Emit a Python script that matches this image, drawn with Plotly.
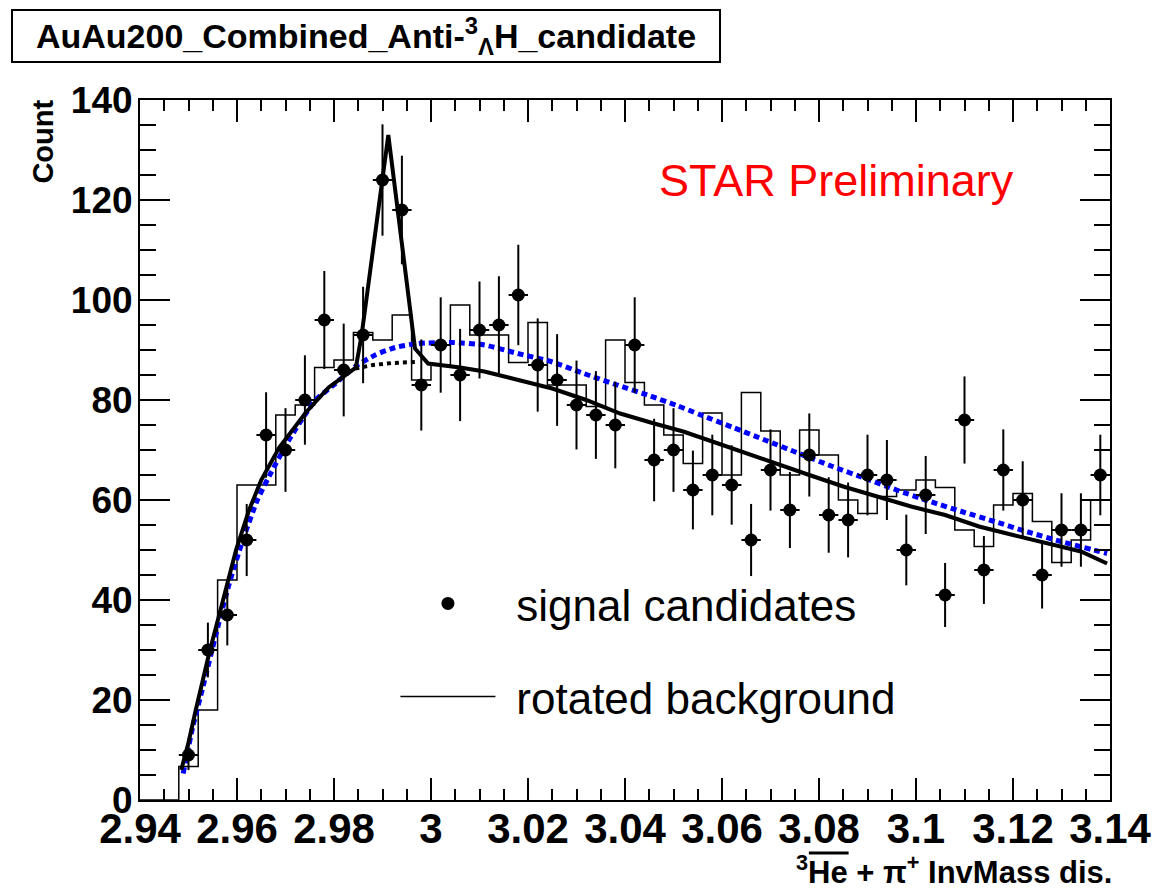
import numpy as np
import plotly.graph_objects as go

# ---------------- data ----------------
bin_low = 2.94
bin_width = 0.004
n_bins = 50

# signal candidates: bin centres 2.950 ... 3.138
signal_first_center = 2.950
signal_counts = [9, 30, 37, 52, 73, 70, 80, 96, 86, 93,
                 124, 118, 83, 91, 85, 94, 95, 101, 87, 84,
                 79, 77, 75, 91, 68, 70, 62, 65, 63, 52,
                 66, 58, 69, 57, 56, 65, 64, 50, 61, 41,
                 76, 46, 66, 60, 45, 54, 54, 65]

# rotated background histogram (all 50 bins from 2.94 to 3.14)
rotated_bg = [0, 0, 6.7, 18, 44, 63, 63, 77, 79, 86.5,
              88, 93.5, 92, 97, 84, 87, 99, 93, 93, 87.5,
              95.5, 83, 83, 78.7, 92, 83.5, 79, 73, 67.3, 77.4,
              65, 81.5, 73.8, 65, 74, 69, 60, 57.3, 60.7, 62,
              64, 62.5, 54, 50.7, 59, 61.3, 55.7, 47.5, 52, 60]

# fit to the rotated background (blue dotted)
blue_fit_x = [2.9489, 2.9509, 2.9530, 2.9557, 2.9584, 2.9612, 2.9642, 2.9666, 2.9707,
              2.9742, 2.9762, 2.9803, 2.9844, 2.9885, 2.9926, 2.9974, 3.0042, 3.0110,
              3.0179, 3.0247, 3.0315, 3.0384, 3.0452, 3.0507, 3.0554, 3.0623, 3.0691,
              3.0759, 3.0828, 3.0896, 3.0960, 3.1026, 3.1094, 3.1162, 3.1231, 3.1299, 3.1394]
blue_fit_y = [5.3, 14.7, 22.7, 33.3, 43.3, 52, 60, 64.7, 72,
              77.3, 80, 83.3, 86.7, 89, 90.5, 91.3, 91.5, 91,
              89.3, 87.7, 85.3, 83, 80.8, 78.9, 77.1, 74.5, 71.9,
              69.3, 66.7, 64.3, 62, 59.8, 57.7, 55.7, 53.6, 51.7, 49.3]

# signal + background fit (black solid)
total_fit_x = [2.9485, 2.9500, 2.9515, 2.9543, 2.9570, 2.9598, 2.9625, 2.9650, 2.9687,
               2.9714, 2.9742, 2.9789, 2.9830, 2.9845, 2.9857, 2.9912, 2.9967, 2.9994,
               3.0060, 3.0110, 3.0180, 3.0250, 3.0320, 3.0390, 3.0460, 3.0520, 3.0580,
               3.0650, 3.0720, 3.0780, 3.0850, 3.0920, 3.0990, 3.1060, 3.1130, 3.1200,
               3.1270, 3.1340, 3.1394]
total_fit_y = [6, 11.5, 18, 29.5, 39.5, 50, 58, 64, 70.5,
               74, 77.5, 82.5, 85.3, 86.5, 93, 133, 90.3, 87.3,
               86.5, 85.7, 84, 82.3, 80, 77.3, 75.3, 73.7, 71.7,
               69.3, 67, 65, 62.7, 60.7, 58.7, 57, 54.7, 53,
               51.3, 49.7, 47.3]

# background component under the peak (black dotted)
bg_part_x = [2.9844, 2.9880, 2.9920, 2.9967]
bg_part_y = [86.3, 87.0, 87.4, 87.6]

x_tick_vals = [2.94, 2.96, 2.98, 3.00, 3.02, 3.04, 3.06, 3.08, 3.10, 3.12, 3.14]
x_tick_text = ["2.94", "2.96", "2.98", "3", "3.02", "3.04", "3.06", "3.08", "3.1", "3.12", "3.14"]
y_tick_vals = [0, 20, 40, 60, 80, 100, 120, 140]

# ---------------- derived ----------------
sig = np.array(signal_counts, dtype=float)
sig_x = signal_first_center + bin_width * np.arange(len(sig))
edges = bin_low + bin_width * np.arange(n_bins + 1)
hist_y = list(rotated_bg) + [rotated_bg[-1]]

FONT = "Liberation Sans, Arial, Helvetica, sans-serif"

fig = go.Figure()

fig.add_trace(go.Scatter(
    x=edges, y=hist_y, mode="lines",
    line=dict(shape="hv", color="black", width=1.5),
    name="\u00a0\u200arotated background", legendgroup="b", legendrank=2,
    hoverinfo="skip"))

fig.add_trace(go.Scatter(
    x=blue_fit_x, y=blue_fit_y, mode="lines",
    line=dict(color="#0000ff", width=5, dash="6px,4px", shape="spline", smoothing=0.6),
    showlegend=False))

fig.add_trace(go.Scatter(
    x=bg_part_x, y=bg_part_y, mode="lines",
    line=dict(color="black", width=4, dash="4px,4px"),
    showlegend=False))

fig.add_trace(go.Scatter(
    x=total_fit_x, y=total_fit_y, mode="lines",
    line=dict(color="black", width=4),
    showlegend=False))

fig.add_trace(go.Scatter(
    x=sig_x, y=sig, mode="markers",
    marker=dict(symbol="circle", size=13, color="black"),
    error_y=dict(type="data", array=np.sqrt(sig), width=0, thickness=2, color="black"),
    error_x=dict(type="constant", value=bin_width / 2, width=0, thickness=2, color="black"),
    name="\u00a0\u200asignal candidates", legendgroup="a", legendrank=1))

fig.update_layout(
    width=1164, height=894,
    margin=dict(l=140, r=48, t=100, b=94),
    plot_bgcolor="white", paper_bgcolor="white",
    font=dict(family=FONT, color="black"),
    showlegend=True,
    legend=dict(
        x=(397 - 140) / 976, y=0.331, xanchor="left", yanchor="top",
        font=dict(size=44, family=FONT, color="black"),
        itemwidth=95, bgcolor="rgba(0,0,0,0)", borderwidth=0,
        tracegroupgap=33, traceorder="grouped"),
    xaxis=dict(
        range=[2.94, 3.14], tickvals=x_tick_vals, ticktext=x_tick_text,
        ticks="inside", ticklen=22, tickwidth=1.5, tickcolor="black",
        showline=True, linewidth=2, linecolor="black", mirror="ticks",
        showgrid=False, zeroline=False,
        tickfont=dict(size=42, family=FONT, weight="bold"),
        ticklabelstandoff=-9,
        minor=dict(dtick=0.005, ticks="inside", ticklen=11, tickwidth=1.5, tickcolor="black", showgrid=False)),
    yaxis=dict(
        range=[0, 140], tickvals=y_tick_vals,
        ticks="inside", ticklen=30, tickwidth=1.5, tickcolor="black",
        showline=True, linewidth=2, linecolor="black", mirror="ticks",
        showgrid=False, zeroline=False,
        tickfont=dict(size=37, family=FONT, weight="bold"),
        ticklabelstandoff=-2,
        minor=dict(dtick=5, ticks="inside", ticklen=16, tickwidth=1.5, tickcolor="black", showgrid=False)),
)

# title box
fig.add_annotation(
    xref="paper", yref="paper", x=(10 - 140) / 976, y=(800 - 9) / 700,
    xanchor="left", yanchor="top", showarrow=False,
    text="<b>AuAu200_Combined_Anti-<sup>3</sup><sub>Λ</sub>H_candidate</b>",
    font=dict(size=34, family=FONT, color="black"),
    width=706, height=50, align="center", valign="middle",
    bordercolor="black", borderwidth=2, borderpad=0, bgcolor="white")

# STAR Preliminary
fig.add_annotation(
    xref="paper", yref="paper", x=(660 - 140) / 976, y=(800 - 180) / 700,
    xanchor="left", yanchor="middle", showarrow=False,
    text="STAR Preliminary", font=dict(size=45, family=FONT, color="#ff0000"))

# y axis title
fig.add_annotation(
    xref="paper", yref="paper", x=(42 - 140) / 976, y=(800 - 142) / 700,
    xanchor="center", yanchor="middle", showarrow=False, textangle=-90,
    text="<b>Count</b>", font=dict(size=29, family=FONT, color="black"))

# x axis title
fig.add_annotation(
    xref="paper", yref="paper", x=1.0, y=(800 - 870) / 700,
    xanchor="right", yanchor="middle", showarrow=False, xshift=4,
    text="<b><sup>3</sup>He + π<sup>+</sup> InvMass dis.</b>",
    font=dict(size=31, family=FONT, color="black"))
# overline above "He" (anti-particle bar)
fig.add_shape(
    type="line", xref="paper", yref="paper",
    x0=(813 - 140) / 976, x1=(853 - 140) / 976,
    y0=(800 - 853) / 700, y1=(800 - 853) / 700,
    line=dict(color="black", width=3))

fig.write_html("out.html")
